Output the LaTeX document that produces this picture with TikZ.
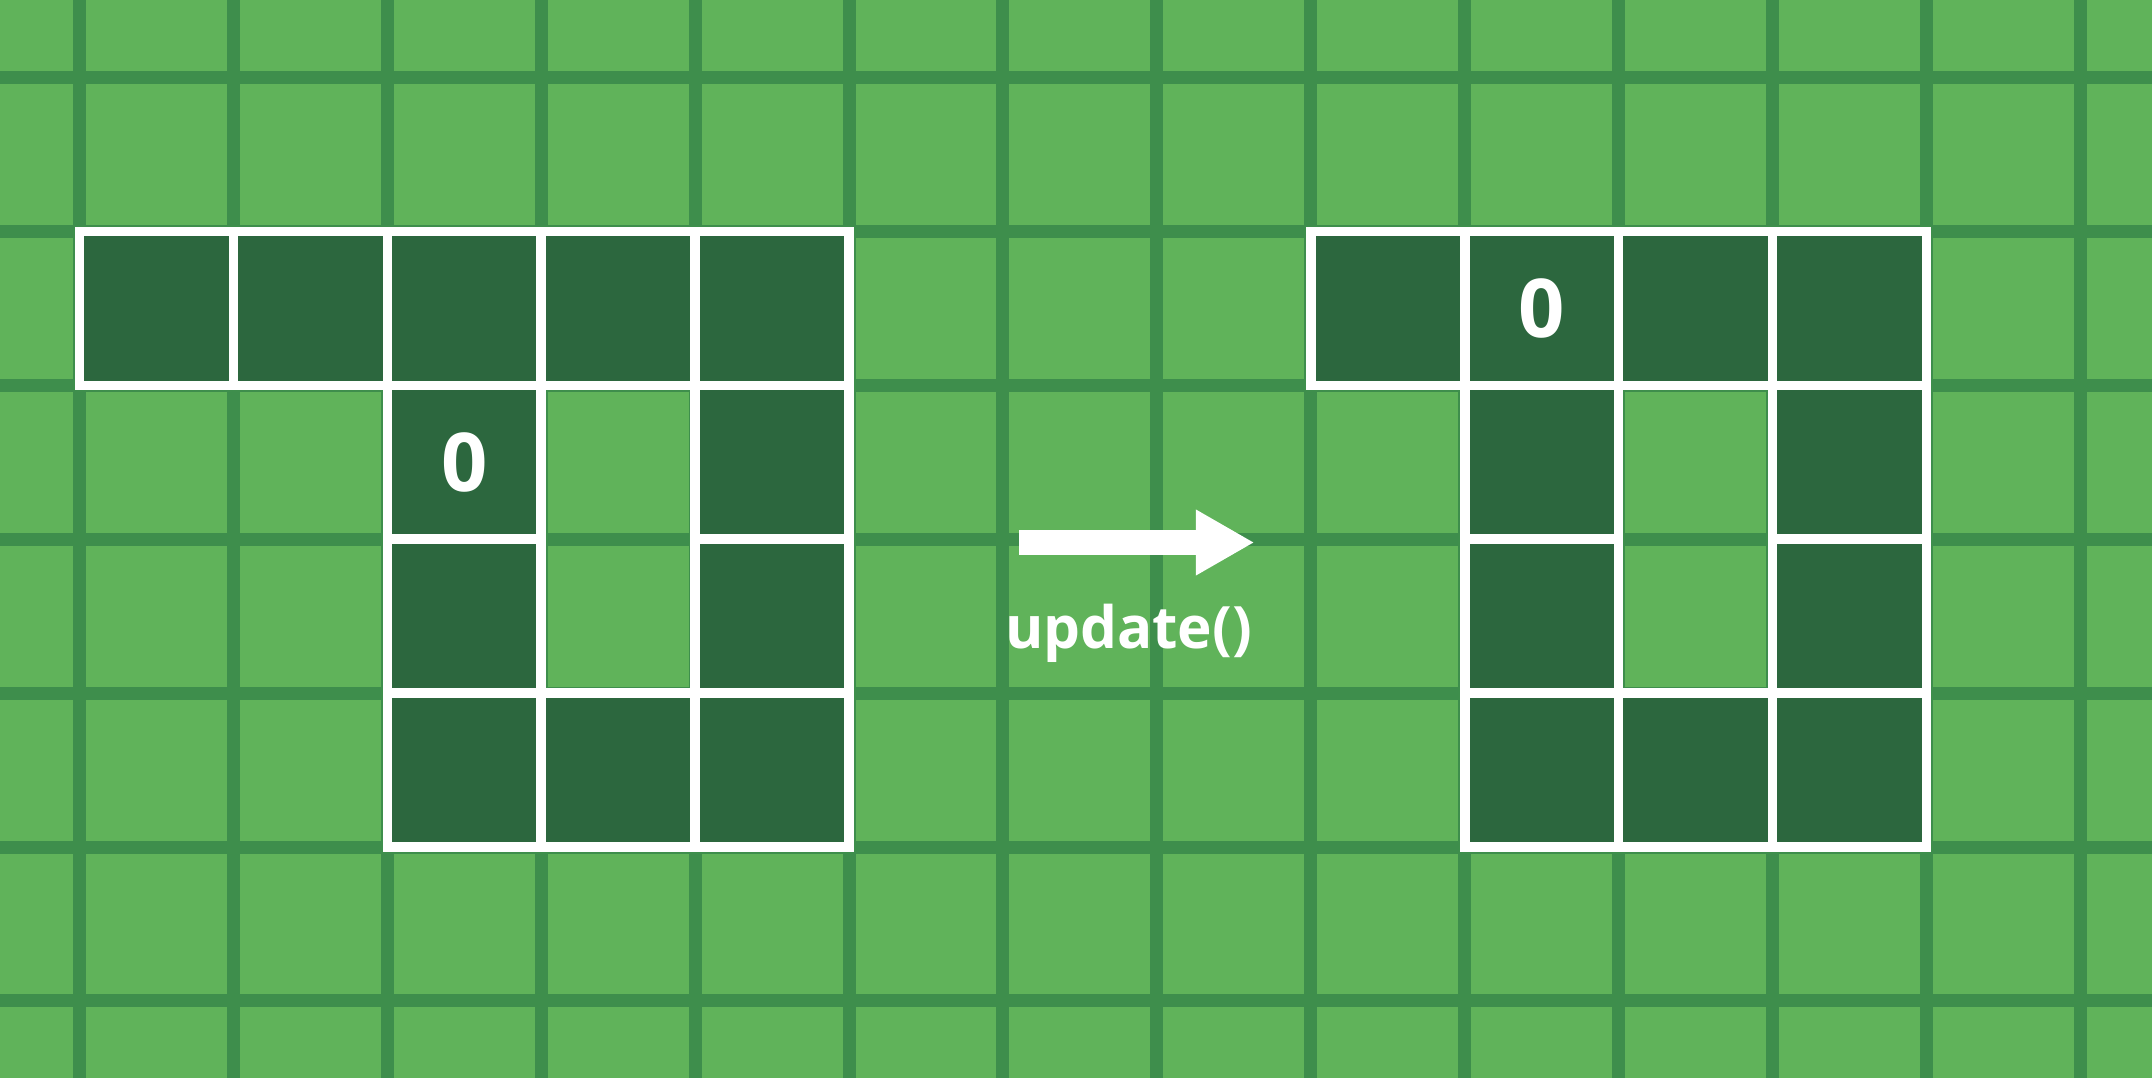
\documentclass[tikz,border=0pt]{standalone}
\usepackage{fontspec}
\setsansfont{Open Sans}
\usetikzlibrary{arrows.meta,positioning}
\definecolor{grass}{HTML}{60B35A}
\definecolor{gridgreen}{HTML}{3E8E4C}
\definecolor{snake}{HTML}{2C673E}

\begin{document}
\begin{tikzpicture}[
    gridline/.style={gridgreen, line width=2.4pt},
    cell/.style={draw=white, fill=snake, line width=1.8pt, minimum size=1cm, inner sep=0pt, outer sep=0pt,
      text=white, font=\sffamily\bfseries\fontsize{15}{16}\selectfont},
    bigarrow/.style={white, line width=1.62mm, -{Triangle[length=3.74mm, width=4.3mm, line width=0pt]}},
    caption/.style={text=white, anchor=base, inner sep=0pt, font=\sffamily\bfseries\fontsize{10.8}{12}\selectfont}]
  % background and board lines
  \fill[grass] (-0.517,-0.5) rectangle (13.466,6.504);
  \useasboundingbox (-0.517,-0.5) rectangle (13.466,6.504);
  \foreach \x in {0,...,13} \draw[gridline] (\x,-0.5) -- (\x,6.504);
  \foreach \y in {0,...,6} \draw[gridline] (-0.517,\y) -- (13.466,\y);

  % --- before ---
  \foreach \c/\t in {0/,1/,2/,3/,4/} \node[cell] (old-\c-4) at (\c+.5,4.5) {\t};
  \node[cell] (old-2-3) at (2.5,3.5) {0};
  \foreach \c/\r in {2/2,2/1,3/1,4/1,4/2,4/3} \node[cell] (old-\c-\r) at (\c+.5,\r+.5) {};

  % --- after ---
  \foreach \c/\t in {8/,9/0,10/,11/} \node[cell] (new-\c-4) at (\c+.5,4.5) {\t};
  \foreach \c/\r in {9/3,9/2,9/1,10/1,11/1,11/2,11/3} \node[cell] (new-\c-\r) at (\c+.5,\r+.5) {};

  % --- step arrow ---
  \coordinate (tail) at (6.105,2.979);
  \coordinate (head) at (7.627,2.979);
  \draw[bigarrow] (tail) -- (head);
  \node[caption] (step label) at (6.816,2.293) {update()};
\end{tikzpicture}
\end{document}
